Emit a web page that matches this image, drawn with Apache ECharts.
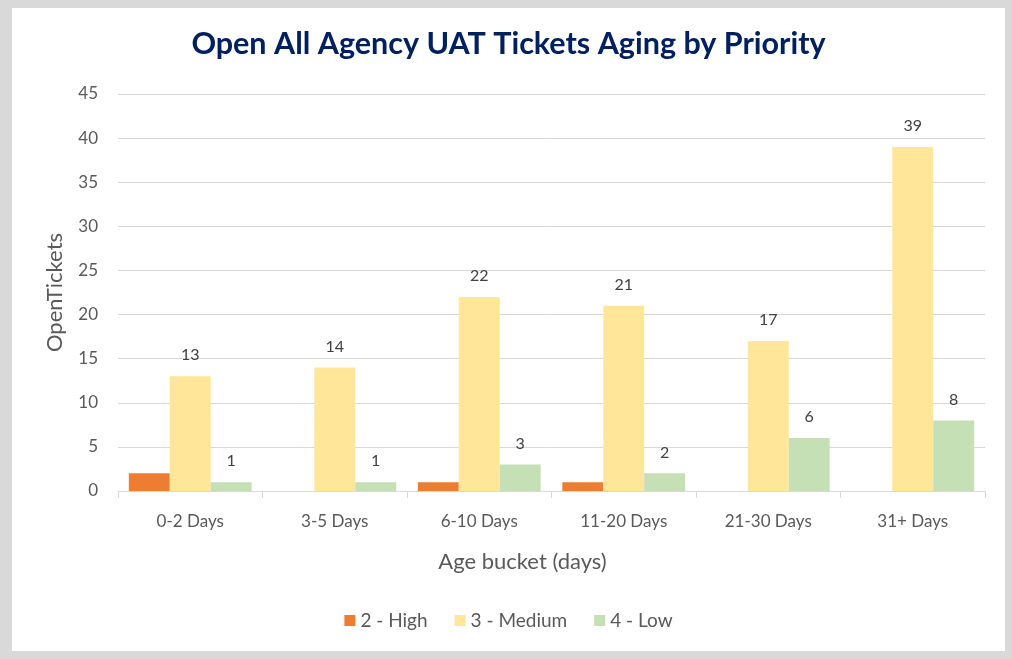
<!DOCTYPE html>
<html>
<head>
<meta charset="utf-8">
<script src="https://cdn.jsdelivr.net/npm/echarts@6/dist/echarts.min.js"></script>
<style>
  html, body { margin: 0; padding: 0; background: #d9d9d9; width: 1012px; height: 659px; overflow: hidden; }
  #chart { position: absolute; left: 12px; top: 8px; width: 993px; height: 643px; background: #ffffff; }
</style>
</head>
<body>
<div id="chart"></div>
<script>
const categories = ['0-2 Days', '3-5 Days', '6-10 Days', '11-20 Days', '21-30 Days', '31+ Days'];
const highValues = [2, 0, 1, 1, 0, 0];
const mediumValues = [13, 14, 22, 21, 17, 39];
const lowValues = [1, 1, 3, 2, 6, 8];
const seriesNames = ['2 - High', '3 - Medium', '4 - Low'];
const yTicks = { min: 0, max: 45, interval: 5 };

const font = 'Lato, "Open Sans", sans-serif';
const chart = echarts.init(document.getElementById('chart'), null, { renderer: 'canvas' });

const labelStyle = { show: true, position: 'top', distance: 13, color: '#404040', fontSize: 16, fontFamily: font };

chart.setOption({
  animation: false,
  title: {
    text: 'Open All Agency UAT Tickets Aging by Priority',
    left: 'center',
    top: 16,
    textStyle: { color: '#002060', fontSize: 30.5, fontWeight: 'bold', fontFamily: font }
  },
  legend: {
    data: seriesNames,
    bottom: 16,
    left: 'center',
    itemWidth: 11,
    itemHeight: 11,
    itemGap: 27,
    icon: 'rect',
    textStyle: { color: '#595959', fontSize: 19, fontFamily: font }
  },
  grid: { left: 106, right: 20, top: 86, bottom: 160, containLabel: false },
  xAxis: {
    type: 'category',
    data: categories,
    name: 'Age bucket (days)',
    nameLocation: 'middle',
    nameGap: 60,
    nameTextStyle: { color: '#595959', fontSize: 22, fontFamily: font, padding: [0, 58, 0, 0] },
    axisLine: { lineStyle: { color: '#d9d9d9', width: 1 } },
    axisTick: { show: true, length: 7, lineStyle: { color: '#d9d9d9' } },
    axisLabel: { color: '#595959', fontSize: 17, margin: 22, fontFamily: font }
  },
  yAxis: {
    type: 'value',
    min: yTicks.min,
    max: yTicks.max,
    interval: yTicks.interval,
    name: 'OpenTickets',
    nameLocation: 'middle',
    nameGap: 52,
    nameTextStyle: { color: '#595959', fontSize: 22, fontFamily: font },
    axisLine: { show: false },
    axisTick: { show: false },
    axisLabel: { color: '#595959', fontSize: 17, margin: 20, fontFamily: font },
    splitLine: { lineStyle: { color: '#d9d9d9', width: 1 } }
  },
  series: [
    {
      name: seriesNames[0], type: 'bar', data: highValues,
      barGap: '0%', barCategoryGap: '15%',
      itemStyle: { color: '#ED7D31' },
      label: { show: false }
    },
    {
      name: seriesNames[1], type: 'bar', data: mediumValues,
      barGap: '0%', barCategoryGap: '15%',
      itemStyle: { color: '#FFE699' },
      label: labelStyle
    },
    {
      name: seriesNames[2], type: 'bar', data: lowValues,
      barGap: '0%', barCategoryGap: '15%',
      itemStyle: { color: '#C5E0B4' },
      label: labelStyle
    }
  ]
});
</script>
</body>
</html>
